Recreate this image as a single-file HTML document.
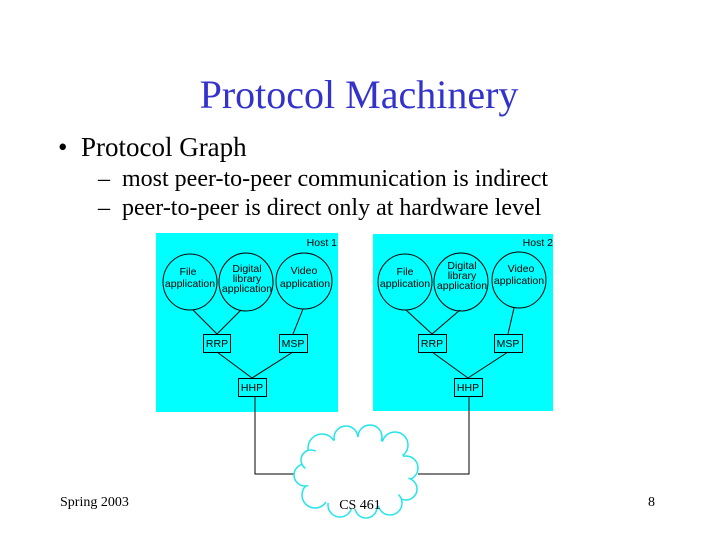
<!DOCTYPE html>
<html><head><meta charset="utf-8"><style>
body{margin:0;background:#fff;}
.s{position:relative;width:720px;height:540px;overflow:hidden;font-family:"Liberation Serif",serif;}
.t{position:absolute;white-space:nowrap;}
</style></head><body><div class="s">
<div class="t" style="left:0;width:718px;text-align:center;top:71px;font-size:40px;color:#3333cc;">Protocol Machinery</div>
<div class="t" style="left:58px;top:132px;font-size:27px;">•&nbsp;&nbsp;Protocol Graph</div>
<div class="t" style="left:98px;top:166px;font-size:24px;">–&nbsp;&nbsp;most peer-to-peer communication is indirect</div>
<div class="t" style="left:98px;top:195px;font-size:24px;">–&nbsp;&nbsp;peer-to-peer is direct only at hardware level</div>
<div class="t" style="left:60px;top:495px;font-size:14px;">Spring 2003</div>
<div class="t" style="left:648px;top:495px;font-size:14px;">8</div>
<svg width="720" height="540" style="position:absolute;left:0;top:0" font-family="Liberation Sans, sans-serif" font-size="10.5">
<rect x="156" y="233" width="182" height="179" fill="#00ffff"/>
<rect x="373" y="234" width="180" height="177" fill="#00ffff"/>
<text x="337" y="246" text-anchor="end">Host 1</text>
<text x="553" y="246" text-anchor="end">Host 2</text>
<g fill="none" stroke="#000" stroke-width="1">
<ellipse cx="190" cy="282" rx="27" ry="28"/><ellipse cx="246" cy="282" rx="27" ry="29"/><ellipse cx="304" cy="281" rx="28" ry="28"/>
<ellipse cx="405" cy="282" rx="27" ry="28"/><ellipse cx="461" cy="282" rx="27" ry="29"/><ellipse cx="519" cy="280" rx="27" ry="28"/>
<rect x="203.5" y="334.5" width="27" height="18"/><rect x="279.5" y="334.5" width="28" height="18"/><rect x="238.5" y="378.5" width="28" height="18"/>
<rect x="418.5" y="334.5" width="28" height="18"/><rect x="494.5" y="334.5" width="28" height="18"/><rect x="454.5" y="378.5" width="28" height="18"/>
<path d="M193 310L217 334M241 310L217 334M303 309L293 334M217 352L252 378M293 352L252 378"/>
<path d="M406 310L432 334M460 310L432 334M514 308L508 334M432 352L468 378M508 352L468 378"/>
<path d="M255 397V474H298M469 397V474H418"/>
</g>
<g text-anchor="middle">
<text x="188" y="275">File</text><text x="190" y="287">application</text>
<text x="247" y="272">Digital</text><text x="247" y="282">library</text><text x="247" y="292">application</text>
<text x="304" y="274">Video</text><text x="305" y="287">application</text>
<text x="405" y="275">File</text><text x="405" y="287">application</text>
<text x="462" y="269">Digital</text><text x="462" y="279">library</text><text x="462" y="289">application</text>
<text x="521" y="272">Video</text><text x="519" y="284">application</text>
<text x="217" y="347">RRP</text><text x="293" y="347">MSP</text><text x="252" y="391">HHP</text>
<text x="432" y="347">RRP</text><text x="508" y="347">MSP</text><text x="468" y="391">HHP</text>
</g>
<g fill="#fff" stroke="#22e5ea" stroke-width="1.5">
<circle cx="322" cy="448" r="14"/><circle cx="346" cy="438" r="12"/><circle cx="370" cy="437" r="12"/><circle cx="395" cy="445" r="13"/>
<circle cx="406" cy="468" r="12"/><circle cx="406" cy="489" r="11"/><circle cx="390" cy="503" r="12"/><circle cx="366" cy="507" r="11"/>
<circle cx="340" cy="505" r="12"/><circle cx="315" cy="495" r="13"/><circle cx="305" cy="475" r="11"/><circle cx="311" cy="460" r="10"/>
</g>
<ellipse cx="357" cy="473" rx="52" ry="36" fill="#fff"/>
<text x="360" y="509" text-anchor="middle" font-family="Liberation Serif, serif" font-size="14">CS 461</text>
</svg>
</div></body></html>
